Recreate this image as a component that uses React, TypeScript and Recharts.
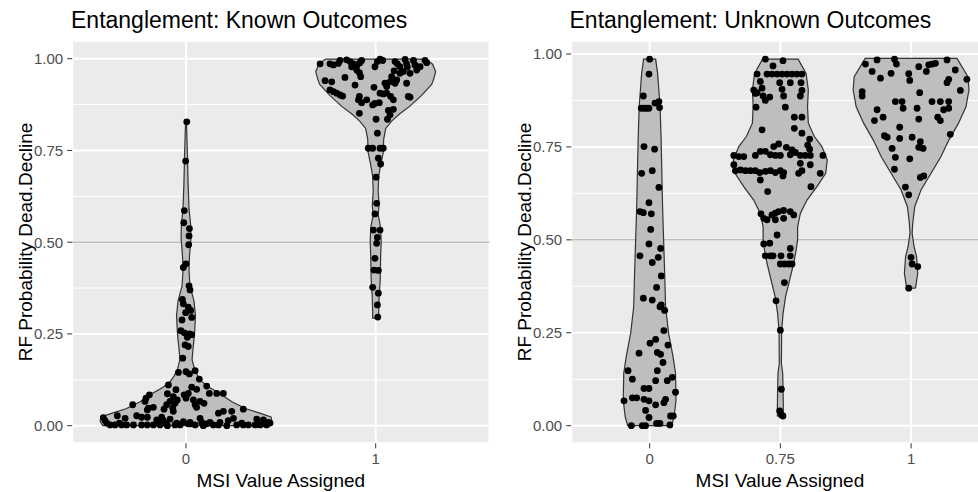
import React from "react";
import { ScatterChart, Scatter, XAxis, YAxis, CartesianGrid, ReferenceLine } from "recharts";

// axis labels
const knownCategories = ["0", "1"];
const unknownCategories = ["0", "0.75", "1"];
const yTicks = [0, 0.25, 0.5, 0.75, 1];
const yMinorTicks = [0.125, 0.375, 0.625, 0.875];

// violin outlines: probability level + half width (in category units)
const known0Levels = [0, 0.012, 0.024, 0.035, 0.046, 0.065, 0.089, 0.105, 0.12, 0.135, 0.15, 0.18, 0.21, 0.25, 0.3, 0.34, 0.38, 0.42, 0.46, 0.51, 0.55, 0.59, 0.66, 0.73, 0.8, 0.828];
const known0Widths = [0.438, 0.453, 0.448, 0.385, 0.316, 0.242, 0.174, 0.121, 0.084, 0.063, 0.047, 0.032, 0.037, 0.045, 0.05, 0.042, 0.021, 0.016, 0.018, 0.026, 0.024, 0.016, 0.011, 0.008, 0.004, 0.002];
const known1Levels = [0.293, 0.31, 0.35, 0.4, 0.46, 0.5, 0.54, 0.575, 0.6, 0.64, 0.68, 0.71, 0.745, 0.78, 0.81, 0.83, 0.85, 0.87, 0.9, 0.93, 0.945, 0.965, 0.985, 0.999];
const known1Widths = [0.016, 0.016, 0.018, 0.024, 0.026, 0.029, 0.026, 0.013, 0.018, 0.013, 0.016, 0.026, 0.04, 0.042, 0.053, 0.084, 0.127, 0.179, 0.242, 0.295, 0.306, 0.316, 0.3, 0.264];

const unknown0Levels = [0, 0.024, 0.069, 0.141, 0.186, 0.249, 0.32, 0.41, 0.589, 0.769, 0.858, 0.948, 0.986];
const unknown0Widths = [0.168, 0.187, 0.202, 0.198, 0.179, 0.145, 0.122, 0.115, 0.099, 0.088, 0.08, 0.061, 0.046];
const unknown075Levels = [0.026, 0.042, 0.096, 0.141, 0.168, 0.257, 0.302, 0.347, 0.392, 0.437, 0.473, 0.5, 0.535, 0.571, 0.607, 0.643, 0.679, 0.715, 0.751, 0.778, 0.814, 0.858, 0.903, 0.948, 0.986];
const unknown075Widths = [0.023, 0.023, 0.021, 0.018, 0.008, 0.01, 0.021, 0.04, 0.071, 0.102, 0.121, 0.132, 0.132, 0.153, 0.204, 0.28, 0.347, 0.359, 0.318, 0.26, 0.214, 0.208, 0.214, 0.197, 0.136];
const unknown1Levels = [0.37, 0.41, 0.455, 0.482, 0.518, 0.545, 0.589, 0.634, 0.679, 0.724, 0.769, 0.814, 0.858, 0.903, 0.939, 0.988];
const unknown1Widths = [0.034, 0.051, 0.042, 0.023, 0.008, 0.013, 0.028, 0.076, 0.153, 0.229, 0.29, 0.363, 0.42, 0.443, 0.435, 0.351];

// jittered points: [x jitter, probability]
const known0Points: [number, number][] = [
    [-0.005, 0.22], [0.012, 0.216], [-0.017, 0.184], [-0.04, 0.145], [0, 0.147], [0.018, 0.141], [0.048, 0.15], [0.07, 0.127],
    [-0.093, 0.111], [-0.053, 0.098], [0.03, 0.105], [0.056, 0.099], [0.012, 0.088], [0.109, 0.108], [0.123, 0.088], [0.162, 0.088],
    [0.197, 0.088], [-0.098, 0.087], [-0.067, 0.079], [-0.046, 0.07], [-0.01, 0.084], [0, 0.075], [0.039, 0.07], [0.074, 0.066],
    [0.095, 0.061], [0.048, 0.057], [-0.193, 0.084], [-0.211, 0.075], [-0.216, 0.066], [-0.281, 0.057], [-0.084, 0.066], [-0.058, 0.061],
    [-0.102, 0.057], [-0.116, 0.045], [-0.07, 0.048], [-0.067, 0.039], [-0.198, 0.048], [-0.172, 0.05], [-0.204, 0.043], [0.056, 0.05],
    [0.171, 0.034], [0.197, 0.039], [0.241, 0.039], [0.302, 0.045],
    [-0.436, 0.022], [-0.427, 0.014], [-0.362, 0.027], [-0.321, 0.02], [-0.26, 0.027], [-0.234, 0.023], [-0.204, 0.023], [-0.154, 0.016],
    [-0.128, 0.023], [-0.119, 0.014], [-0.084, 0.018], [-0.049, 0.007], [-0.014, 0.011], [0.021, 0.009], [0.074, 0.02], [0.083, 0.009],
    [0.127, 0.009], [0.179, 0.009], [0.223, 0.014], [0.25, 0.02], [0.294, 0.007], [0.373, 0.018], [0.408, 0.016], [0.434, 0.009],
    [-0.4, 0.002], [-0.374, 0.002], [-0.339, 0.002], [-0.313, 0.002], [-0.277, 0.002], [-0.234, 0.002], [-0.204, 0.002], [-0.172, 0.002],
    [-0.137, 0.002], [-0.098, 0], [-0.058, 0.002], [-0.031, 0.002], [0.012, 0.005], [0.048, 0.002], [0.091, 0], [0.144, 0.002],
    [0.171, 0.002], [0.215, 0], [0.267, 0.002], [0.302, 0.002], [0.329, 0.002], [0.364, 0.002], [0.39, 0.002], [0.425, 0.002],
    [-0.418, 0.007], [-0.351, 0.007], [-0.14, 0.007], [-0.105, 0.005], [0.025, 0.005], [0.109, 0.005], [0.376, 0.005], [0.411, 0.005],
    [0.443, 0.007],
    [0.004, 0.828], [-0.002, 0.721], [-0.009, 0.586], [-0.012, 0.553], [0.018, 0.537], [0.016, 0.517], [0.014, 0.493], [0, 0.441],
    [-0.014, 0.431], [0.016, 0.381], [0.021, 0.37], [-0.019, 0.344], [-0.014, 0.332], [0.012, 0.323], [0.025, 0.314], [-0.002, 0.308],
    [-0.021, 0.288], [0.03, 0.295], [-0.027, 0.259], [-0.009, 0.253], [0.018, 0.25], [0.007, 0.241], [0.03, 0.248],
];

const known1Points: [number, number][] = [
    [-0.293, 0.986], [-0.241, 0.986], [-0.223, 0.983], [-0.197, 0.987], [-0.188, 0.995], [-0.153, 0.997], [-0.135, 0.992], [-0.118, 0.986],
    [-0.097, 0.983], [-0.083, 0.989], [-0.074, 0.995], [-0.127, 0.978], [-0.1, 0.969], [-0.086, 0.962], [-0.079, 0.951], [-0.004, 0.978],
    [0.023, 0.999], [0.037, 0.995], [0.009, 0.992], [0.102, 0.992], [0.114, 0.986], [0.128, 0.978], [0.155, 0.998], [0.163, 0.986],
    [0.167, 0.977], [0.199, 0.995], [0.207, 0.983], [0.234, 0.978], [0.26, 0.995], [0.269, 0.989], [0.216, 0.969], [0.181, 0.96],
    [0.146, 0.965], [0.128, 0.96], [0.097, 0.967], [0.084, 0.951], [0.076, 0.937], [0.049, 0.933], [0.058, 0.924], [0.102, 0.933],
    [0.111, 0.942], [0.163, 0.933], [0.172, 0.897], [0.181, 0.895], [-0.267, 0.94], [-0.232, 0.937], [-0.241, 0.915], [-0.223, 0.91],
    [-0.206, 0.906], [-0.188, 0.901], [-0.174, 0.898], [-0.162, 0.949], [-0.109, 0.928], [-0.009, 0.922], [0.023, 0.906], [0.04, 0.904],
    [0.058, 0.906], [0.079, 0.897], [0.093, 0.888], [-0.086, 0.897], [-0.091, 0.888], [-0.074, 0.88], [-0.047, 0.888], [-0.016, 0.874],
    [-0.004, 0.878], [0.019, 0.88], [0.067, 0.859], [0.093, 0.862], [0.076, 0.847], [0.062, 0.835], [-0.086, 0.851], [0.002, 0.835],
    [0.009, 0.797], [-0.039, 0.756], [-0.016, 0.756], [0.023, 0.756], [0.04, 0.756], [0.014, 0.729], [0.026, 0.713], [0.002, 0.677],
    [0.005, 0.606], [-0.004, 0.577], [-0.012, 0.533], [0.023, 0.533], [0.009, 0.513], [0.005, 0.497], [-0.004, 0.456], [-0.009, 0.424],
    [0.014, 0.423], [-0.016, 0.377], [0.014, 0.361], [0.009, 0.329], [0.011, 0.296],
];

const unknown0Points: [number, number][] = [
    [0, 0.986], [-0.005, 0.946], [-0.048, 0.887], [-0.064, 0.854], [-0.043, 0.854], [-0.023, 0.854], [-0.005, 0.854], [0.041, 0.868],
    [0.071, 0.872], [0.076, 0.856], [-0.043, 0.751], [0.038, 0.744], [-0.061, 0.679], [0.02, 0.686], [0.071, 0.641], [-0.005, 0.6],
    [-0.074, 0.576], [-0.048, 0.573], [0.013, 0.57], [0.008, 0.528], [0.084, 0.477], [-0.005, 0.489], [-0.074, 0.457], [0.066, 0.453],
    [0.02, 0.439], [0.089, 0.403], [0.053, 0.372], [-0.048, 0.343], [0.02, 0.338], [0.079, 0.32], [0.089, 0.325], [0.115, 0.31],
    [0.109, 0.256], [0.046, 0.232], [0.003, 0.222], [0.14, 0.217], [-0.081, 0.195], [0.059, 0.197], [0.084, 0.192], [0.102, 0.17],
    [-0.165, 0.148], [0.059, 0.148], [-0.132, 0.125], [0.046, 0.121], [0.135, 0.121], [0.173, 0.13], [-0.043, 0.1], [-0.005, 0.1],
    [0.198, 0.09], [-0.196, 0.067], [-0.132, 0.075], [-0.099, 0.075], [-0.043, 0.071], [-0.005, 0.067], [0.122, 0.071], [0.109, 0.062],
    [0.046, 0.056], [-0.031, 0.041], [-0.005, 0.022], [0.16, 0.026], [0.181, 0.026], [-0.14, 0], [-0.056, 0], [-0.031, 0],
    [0.053, 0.006], [0.079, 0.006], [0.155, 0.002],
];

const unknown075Points: [number, number][] = [
    [-0.115, 0.986], [0.02, 0.982], [-0.056, 0.968],
    [-0.178, 0.946], [-0.102, 0.946], [-0.064, 0.946], [-0.025, 0.946], [0.013, 0.946], [0.051, 0.946], [0.089, 0.946], [0.127, 0.946], [0.165, 0.946],
    [-0.153, 0.926], [-0.005, 0.923], [0.076, 0.923], [0.158, 0.923], [-0.204, 0.903], [-0.178, 0.896], [-0.14, 0.908], [0.013, 0.905],
    [-0.132, 0.887], [-0.081, 0.884], [-0.191, 0.894], [0.025, 0.887], [0.153, 0.887], [0.165, 0.902], [-0.115, 0.875], [-0.186, 0.857],
    [0.038, 0.857], [0.107, 0.83], [0.165, 0.83], [-0.14, 0.796], [0.107, 0.8], [0.165, 0.787], [0.224, 0.771], [0.209, 0.755],
    [0.224, 0.744], [-0.051, 0.751], [-0.013, 0.758], [0.046, 0.749], [0.089, 0.742],
    [-0.356, 0.727], [-0.318, 0.724], [-0.28, 0.724], [-0.191, 0.727], [-0.153, 0.738], [-0.115, 0.738], [-0.076, 0.729], [-0.038, 0.727],
    [0, 0.727], [0.076, 0.729], [0.115, 0.735], [0.153, 0.727], [0.191, 0.727], [0.229, 0.727], [0.326, 0.727],
    [-0.356, 0.702], [0.153, 0.706], [0.229, 0.702],
    [-0.344, 0.686], [-0.305, 0.688], [-0.267, 0.686], [-0.229, 0.686], [-0.191, 0.686], [-0.158, 0.681], [-0.115, 0.684], [-0.076, 0.686],
    [-0.038, 0.681], [0, 0.686], [0.025, 0.681], [0.14, 0.679], [0.165, 0.686], [0.305, 0.679],
    [-0.153, 0.661], [0.02, 0.672], [0.234, 0.643], [-0.097, 0.63],
    [-0.148, 0.57], [-0.127, 0.558], [-0.102, 0.554], [-0.064, 0.567], [-0.038, 0.572], [-0.013, 0.576], [0.025, 0.579], [-0.038, 0.554],
    [0.025, 0.558], [0.076, 0.576], [0.102, 0.567], [-0.025, 0.513], [-0.127, 0.489], [-0.081, 0.491], [0.076, 0.477],
    [-0.115, 0.457], [-0.076, 0.457], [-0.056, 0.457], [0.005, 0.457], [0.076, 0.457], [0, 0.435], [0.031, 0.435], [0.064, 0.435],
    [0.089, 0.435], [0.031, 0.385], [-0.033, 0.336], [0, 0.257], [0.008, 0.098], [-0.005, 0.04], [0.008, 0.029], [0.02, 0.026],
];

const unknown1Points: [number, number][] = [
    [-0.349, 0.973], [-0.26, 0.984], [-0.298, 0.953], [-0.234, 0.935], [-0.153, 0.948], [-0.127, 0.986], [-0.112, 0.973], [-0.018, 0.947],
    [-0.01, 0.929], [0.059, 0.966], [0.117, 0.953], [0.135, 0.971], [0.16, 0.973], [0.186, 0.975], [0.275, 0.984], [0.338, 0.957],
    [0.275, 0.923], [0.288, 0.932], [0.427, 0.932], [0.377, 0.902], [0.066, 0.896], [-0.374, 0.899], [-0.374, 0.887], [-0.12, 0.872],
    [-0.069, 0.872], [-0.061, 0.854], [0.046, 0.854], [0.16, 0.872], [0.224, 0.872], [0.288, 0.872], [0.249, 0.85], [0.288, 0.854],
    [-0.26, 0.85], [-0.28, 0.821], [-0.214, 0.83], [0.059, 0.825], [0.204, 0.83], [0.224, 0.821], [-0.087, 0.803], [-0.204, 0.78],
    [-0.183, 0.776], [-0.087, 0.773], [0.008, 0.776], [0.071, 0.764], [0.059, 0.749], [0.092, 0.746], [-0.145, 0.746], [-0.12, 0.722],
    [-0.01, 0.718], [0.3, 0.784], [-0.127, 0.69], [0.071, 0.668], [0.097, 0.672], [-0.043, 0.642], [-0.018, 0.621], [0, 0.453],
    [0.008, 0.435], [0.051, 0.428], [-0.018, 0.37],
];

const FONT = '"Liberation Sans", Arial, Helvetica, sans-serif';

function outline(center: number, levels: number[], widths: number[]) {
    const right = levels.map((lv, i) => ({ x: center + widths[i], y: lv }));
    const left = levels.map((lv, i) => ({ x: center - widths[i], y: lv })).reverse();
    return [...right, ...left, right[0]];
}

type PanelProps = {
    width: number;
    marginRight: number;
    categories: string[];
    violins: { levels: number[]; widths: number[] }[];
    points: [number, number][][];
    yDomain: [number, number];
};

function ViolinPanel({ width, marginRight, categories, violins, points, yDomain }: PanelProps) {
    const outlines = violins.map((v, i) => outline(i, v.levels, v.widths));
    const pointSets = points.map((pts, i) => pts.map(([j, p]) => ({ x: i + j, y: p })));

    return (
        <ScatterChart width={width} height={492} margin={{ top: 40.7, right: marginRight, bottom: 0, left: 0 }}>
            <CartesianGrid fill="#ebebeb" stroke="#ffffff" strokeWidth={2} />
            {yMinorTicks.map((v) => (
                <ReferenceLine key={v} y={v} stroke="#ffffff" strokeWidth={1} />
            ))}
            <ReferenceLine y={0.5} stroke="#bdbdbd" strokeWidth={1.5} />
            <XAxis
                type="number"
                dataKey="x"
                domain={[-0.6, categories.length - 0.4]}
                ticks={categories.map((_, i) => i)}
                tickFormatter={(v) => categories[v]}
                allowDataOverflow
                interval={0}
                height={48.7}
                axisLine={false}
                tickLine={{ stroke: "#333333" }}
                tickSize={5}
                tickMargin={5}
                tick={{ fill: "#4d4d4d", fontSize: 15 }}
            />
            <YAxis
                type="number"
                dataKey="y"
                domain={yDomain}
                ticks={yTicks}
                tickFormatter={(v) => v.toFixed(2)}
                allowDataOverflow
                interval={0}
                width={72.2}
                axisLine={false}
                tickLine={{ stroke: "#333333" }}
                tickSize={5}
                tickMargin={4}
                tick={{ fill: "#4d4d4d", fontSize: 15 }}
            />
            {outlines.map((o, i) => (
                <Scatter
                    key={`violin-${i}`}
                    data={o}
                    line={{ fill: "#bebebe", stroke: "#333333", strokeWidth: 1.2 }}
                    lineJointType="linear"
                    shape={() => <g />}
                    isAnimationActive={false}
                />
            ))}
            {pointSets.map((pts, i) => (
                <Scatter
                    key={`points-${i}`}
                    data={pts}
                    fill="#000000"
                    shape={(p: any) => <circle cx={p.cx} cy={p.cy} r={3.4} fill="#000000" />}
                    isAnimationActive={false}
                />
            ))}
        </ScatterChart>
    );
}

export default function App() {
    return (
        <div
            style={{
                position: "absolute",
                left: 0,
                top: 0,
                width: 978,
                height: 492,
                overflow: "hidden",
                background: "#ffffff",
                fontFamily: FONT,
            }}
        >
            <div style={{ position: "absolute", left: 0, top: 0 }}>
                <ViolinPanel
                    width={490}
                    marginRight={0.5}
                    categories={knownCategories}
                    violins={[
                        { levels: known0Levels, widths: known0Widths },
                        { levels: known1Levels, widths: known1Widths },
                    ]}
                    points={[known0Points, known1Points]}
                    yDomain={[-0.048, 1.049]}
                />
            </div>
            <div style={{ position: "absolute", left: 498.5, top: 0 }}>
                <ViolinPanel
                    width={500}
                    marginRight={9.5}
                    categories={unknownCategories}
                    violins={[
                        { levels: unknown0Levels, widths: unknown0Widths },
                        { levels: unknown075Levels, widths: unknown075Widths },
                        { levels: unknown1Levels, widths: unknown1Widths },
                    ]}
                    points={[unknown0Points, unknown075Points, unknown1Points]}
                    yDomain={[-0.0474, 1.0358]}
                />
            </div>
            {/* titles and axis titles */}
            <svg
                width={978}
                height={492}
                style={{ position: "absolute", left: 0, top: 0, pointerEvents: "none" }}
                fontFamily={FONT}
            >
                <text x={71} y={27.5} fontSize={23} fill="#000000">
                    Entanglement: Known Outcomes
                </text>
                <text x={569.5} y={27.5} fontSize={23} fill="#000000">
                    Entanglement: Unknown Outcomes
                </text>
                <text x={280.8} y={486.5} fontSize={19} fill="#000000" textAnchor="middle">
                    MSI Value Assigned
                </text>
                <text x={779.9} y={486.5} fontSize={19} fill="#000000" textAnchor="middle">
                    MSI Value Assigned
                </text>
                <text transform="translate(32,242) rotate(-90)" fontSize={19} fill="#000000" textAnchor="middle">
                    RF Probability Dead.Decline
                </text>
                <text transform="translate(530.5,242) rotate(-90)" fontSize={19} fill="#000000" textAnchor="middle">
                    RF Probability Dead.Decline
                </text>
            </svg>
        </div>
    );
}
